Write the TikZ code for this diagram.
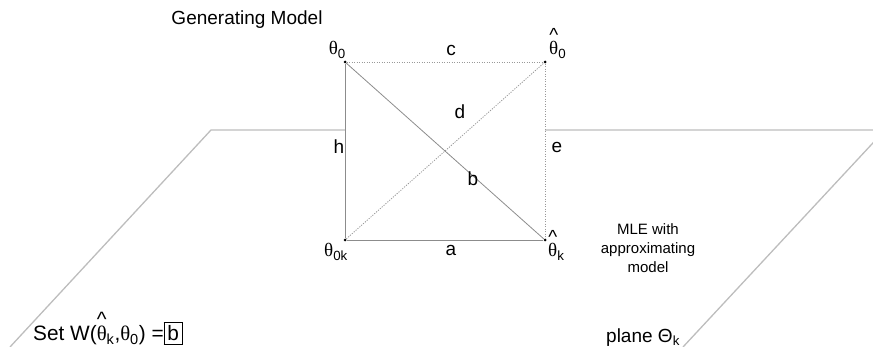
\documentclass[tikz,border=0pt]{standalone}
\usepackage{fontspec}
\setmainfont{Liberation Sans}
\newfontfamily\thfont{Liberation Serif}
\newcommand\thgl{{\thfont θ}}
\newcommand\hthgl{\ooalign{\thgl\cr\hidewidth\raisebox{0.72em}{\^{}}\hidewidth\cr}}
\begin{document}
\begin{tikzpicture}[x=1pt,y=-1pt,
  planeline/.style={draw=black!26,line width=1.3pt},
  sqline/.style={draw=black!45,line width=0.8pt},
  dotline/.style={draw=black!40,line width=0.8pt,dash pattern=on 1.2pt off 1.3pt},
  vdot/.style={circle,fill=black,inner sep=0pt,minimum size=3pt},
  lbl/.style={font=\fontsize{19}{21}\selectfont,inner sep=0pt},
  thl/.style={font=\fontsize{19}{21}\selectfont,inner sep=0pt},
  big/.style={font=\fontsize{19}{22}\selectfont,inner sep=0pt}]
\useasboundingbox (0,0) rectangle (873,347);
\begin{scope}
\clip (0,0) rectangle (873,347);
% plane
\coordinate (pl1) at (211,130);
\coordinate (pl0) at (10,347);
\coordinate (pr1) at (885,130);
\coordinate (pr0) at (683,347);
\coordinate (ml) at (345,130);
\coordinate (mr) at (545,130);
\draw[planeline] (pl0) -- (pl1) -- (ml);
\draw[planeline] (mr) -- (pr1) -- (pr0);
\end{scope}
% vertices
\node[vdot] (t0) at (345,62) {};
\node[vdot] (th0) at (545,62) {};
\node[vdot] (t0k) at (345,240) {};
\node[vdot] (thk) at (545,240) {};
% edges
\draw[dotline] (t0) -- (th0);
\draw[sqline] (t0) -- (t0k);
\draw[dotline] (th0) -- (thk);
\draw[sqline] (t0k) -- (thk);
\draw[sqline] (t0) -- (thk);
\draw[dotline] (t0k) -- (th0);
% vertex labels
\node[thl,anchor=base east] (lt0) at (346,55) {\thgl\textsubscript{0}};
\node[thl,anchor=base west] (lth0) at (549,55) {\hthgl\textsubscript{0}};
\node[thl,anchor=base east] (lt0k) at (348,257) {\thgl\textsubscript{0k}};
\node[thl,anchor=base west] (lthk) at (548,257) {\hthgl\textsubscript{k}};
% edge labels
\node[lbl] (la) at (451,250) {a};
\node[lbl] (lb) at (473,179) {b};
\node[lbl] (lc) at (451,50) {c};
\node[lbl] (ld) at (460,112) {d};
\node[lbl] (le) at (557,147) {e};
\node[lbl] (lh) at (339,147) {h};
% texts
\node[big] (gen) at (247,20) {Generating Model};
\node[font=\fontsize{15}{19}\selectfont,align=center,inner sep=0pt] (mle) at (648,248) {MLE with\\approximating\\model};
\node[big,anchor=base west] (plane) at (606,342) {plane Θ\textsubscript{k}};
\node[font=\fontsize{20.8}{22}\selectfont,inner sep=0pt,anchor=base west] (setw) at (33,341) {Set W(\hthgl\textsubscript{k},\thgl\textsubscript{0}) =\setlength{\fboxsep}{2.5pt}\setlength{\fboxrule}{1.3pt}\fbox{b}};
\end{tikzpicture}
\end{document}
